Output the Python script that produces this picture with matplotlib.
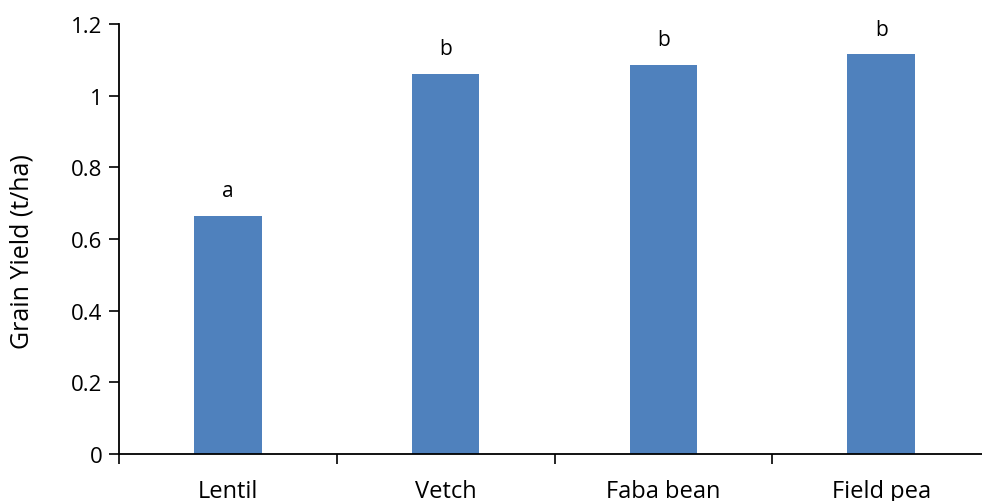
import matplotlib
matplotlib.use("Agg")
import matplotlib.pyplot as plt

CROPS   = ["Lentil", "Vetch", "Faba bean", "Field pea"]
YIELD   = [0.665, 1.061, 1.086, 1.116]   # t/ha
LETTERS = ["a", "b", "b", "b"]
BAR_COLOR = "#4f81bd"

plt.rcParams["font.family"] = ["Open Sans", "DejaVu Sans"]

fig = plt.figure(figsize=(9.82, 5.02), dpi=100)
ax = fig.add_axes([119 / 982, 47 / 502, 871 / 982, 430 / 502])

x = list(range(len(CROPS)))
ax.bar(x, YIELD, width=0.31, color=BAR_COLOR, zorder=2)
for xi, v, lab in zip(x, YIELD, LETTERS):
    ax.annotate(lab, (xi, v), xytext=(0, 18), textcoords="offset points",
                ha="center", va="center", fontsize=15)

ax.set_xlim(-0.5, len(CROPS) - 0.5)
ax.set_ylim(0, 1.2)
ax.set_yticks([0, 0.2, 0.4, 0.6, 0.8, 1.0, 1.2])
ax.set_yticklabels(["0", "0.2", "0.4", "0.6", "0.8", "1", "1.2"])

# category boundaries carry the tick marks, labels sit at bar centres
ax.set_xticks([i - 0.5 for i in range(len(CROPS) + 1)])
ax.set_xticklabels([])
ax.set_xticks(x, minor=True)
ax.set_xticklabels(CROPS, minor=True)
ax.tick_params(axis="x", which="major", direction="out", length=7, width=1.2)
ax.tick_params(axis="x", which="minor", length=0, labelsize=17, pad=18)
ax.tick_params(axis="y", direction="out", length=7, width=1.2, labelsize=16, pad=5)

for s in ["top", "right"]:
    ax.spines[s].set_visible(False)
for s in ["left", "bottom"]:
    ax.spines[s].set_linewidth(1.3)

ax.set_ylabel("Grain Yield (t/ha)", fontsize=18)
ax.yaxis.set_label_coords(-0.097, 0.472)

fig.savefig("out.png", dpi=100)
